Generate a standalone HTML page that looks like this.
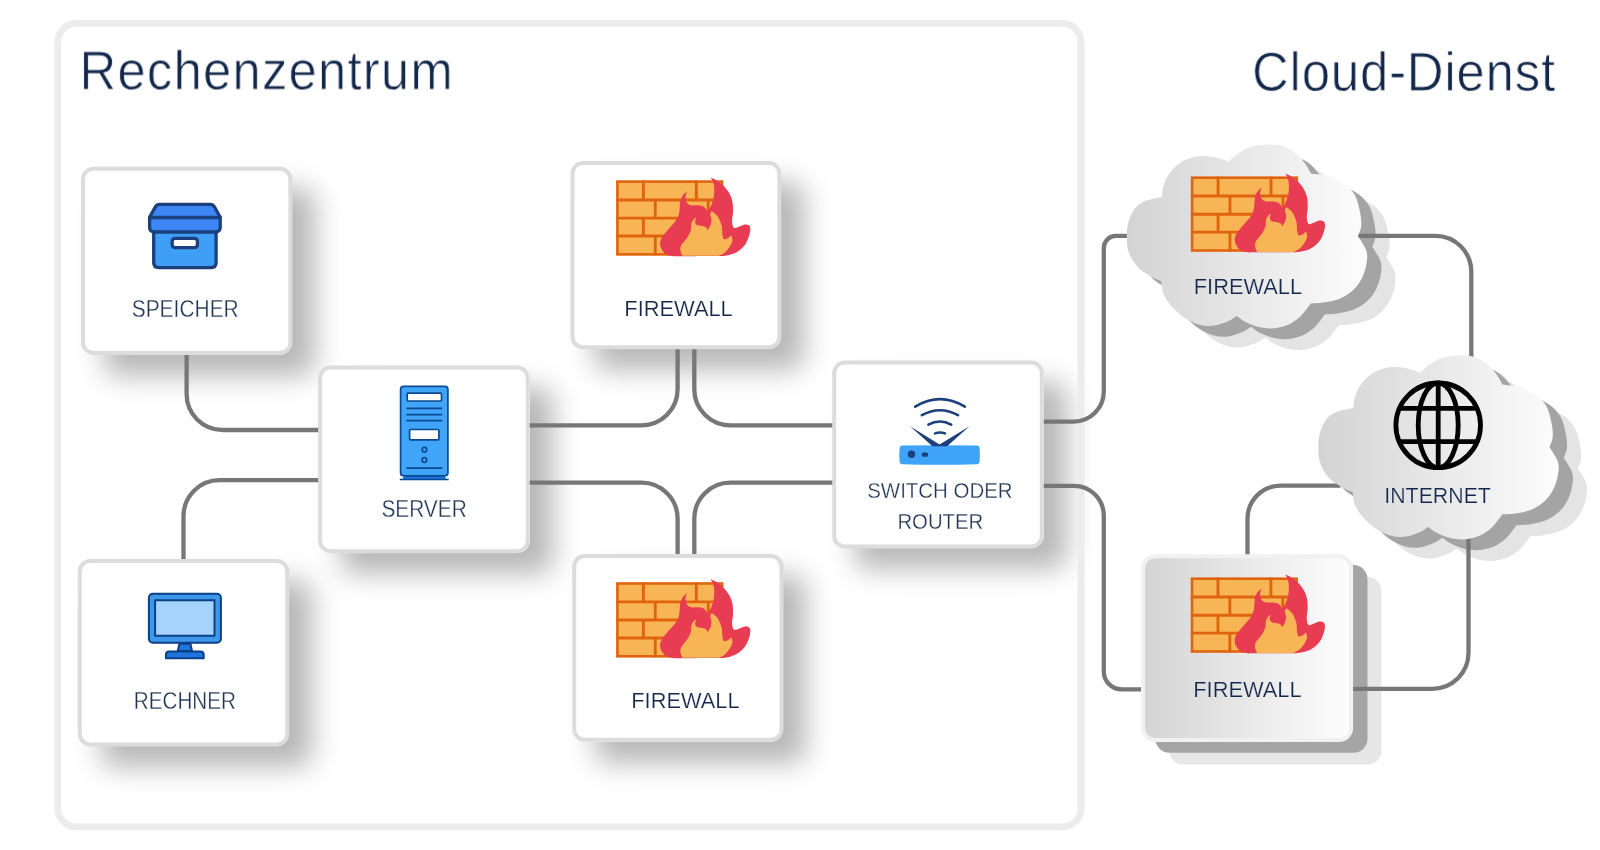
<!DOCTYPE html>
<html lang="de"><head><meta charset="utf-8"><title>Rechenzentrum und Cloud-Dienst</title>
<style>
html,body{margin:0;padding:0;background:#fff;}
body{width:1600px;height:850px;position:relative;overflow:hidden;font-family:"Liberation Sans",sans-serif;}
.sh{position:absolute;border-radius:13px;background:#fff;box-shadow:23px 21px 28px rgba(0,0,0,0.285);}
svg{position:absolute;left:0;top:0;will-change:transform;}
text{font-family:"Liberation Sans",sans-serif;}
</style></head><body>

<div class="sh" style="left:81.0px;top:166.8px;width:211.4px;height:188.2px"></div>
<div class="sh" style="left:570.5px;top:161.0px;width:210.8px;height:188.2px"></div>
<div class="sh" style="left:318.1px;top:365.6px;width:211.6px;height:187.6px"></div>
<div class="sh" style="left:832.2px;top:360.6px;width:211.6px;height:187.9px"></div>
<div class="sh" style="left:77.8px;top:558.9px;width:211.4px;height:187.6px"></div>
<div class="sh" style="left:572.2px;top:553.9px;width:211.3px;height:187.9px"></div>
<svg width="1600" height="850" viewBox="0 0 1600 850">
<defs>
<linearGradient id="cg1" gradientUnits="userSpaceOnUse" x1="0" y1="0" x2="241" y2="0"><stop offset="0" stop-color="#d3d3d3"/><stop offset="1" stop-color="#fdfdfd"/></linearGradient>
<linearGradient id="bg3" x1="0" y1="0" x2="1" y2="0"><stop offset="0" stop-color="#d4d4d4"/><stop offset="1" stop-color="#fdfdfd"/></linearGradient>
</defs>
<rect x="57.85" y="23.35" width="1023.2" height="803.5" rx="18.7" fill="none" stroke="#ececec" stroke-width="6.7"/>
<g transform="translate(1154.4,166.1)" fill="#e4e4e4"><path d="M0.80 94.50 C0.65 89.47 0.93 83.50 2.20 78.50 C3.47 73.50 5.60 68.17 8.40 64.50 C11.20 60.83 14.43 58.50 19.00 56.50 C23.57 54.50 33.00 53.17 35.80 52.50 C36.08 50.67 36.18 45.50 37.50 41.50 C38.82 37.50 40.62 32.58 43.70 28.50 C46.78 24.42 51.28 19.80 56.00 17.00 C60.72 14.20 66.67 12.45 72.00 11.70 C77.33 10.95 82.87 11.62 88.00 12.50 C93.13 13.38 100.33 16.25 102.80 17.00 C104.12 15.82 107.33 12.25 110.70 9.90 C114.07 7.55 118.28 4.52 123.00 2.90 C127.72 1.28 133.67 0.50 139.00 0.20 C144.33 -0.10 150.00 -0.22 155.00 1.10 C160.00 2.42 165.00 5.12 169.00 8.10 C173.00 11.08 176.33 15.52 179.00 19.00 C181.67 22.48 184.00 27.33 185.00 29.00 C188.17 29.47 198.33 30.05 204.00 31.80 C209.67 33.55 214.83 36.30 219.00 39.50 C223.17 42.70 226.50 46.33 229.00 51.00 C231.50 55.67 232.97 62.42 234.00 67.50 C235.03 72.58 235.53 77.50 235.20 81.50 C234.87 85.50 232.53 89.83 232.00 91.50 C233.40 94.00 239.00 101.83 240.40 106.50 C241.80 111.17 241.13 115.00 240.40 119.50 C239.67 124.00 238.23 129.12 236.00 133.50 C233.77 137.88 230.83 142.30 227.00 145.80 C223.17 149.30 218.00 152.45 213.00 154.50 C208.00 156.55 201.70 157.35 197.00 158.10 C192.30 158.85 186.83 158.85 184.80 159.00 C183.00 161.20 177.80 168.67 174.00 172.20 C170.20 175.73 166.33 178.28 162.00 180.20 C157.67 182.12 152.72 183.27 148.00 183.70 C143.28 184.13 138.43 183.83 133.70 182.80 C128.97 181.77 123.43 179.40 119.60 177.50 C115.77 175.60 112.18 172.42 110.70 171.40 C109.25 172.28 105.78 175.08 102.00 176.70 C98.22 178.32 92.72 180.52 88.00 181.10 C83.28 181.68 78.43 181.38 73.70 180.20 C68.97 179.02 64.30 177.08 59.60 174.00 C54.90 170.92 49.18 165.82 45.50 161.70 C41.82 157.58 39.22 153.48 37.50 149.30 C35.78 145.12 35.58 138.72 35.20 136.60 C33.38 135.78 28.18 134.00 24.30 131.70 C20.42 129.40 15.43 126.63 11.90 122.80 C8.37 118.97 4.95 113.42 3.10 108.70 C1.25 103.98 0.95 99.53 0.80 94.50Z"/></g>
<g transform="translate(1140.3,155.3)" fill="#a4a4a4"><path d="M0.80 94.50 C0.65 89.47 0.93 83.50 2.20 78.50 C3.47 73.50 5.60 68.17 8.40 64.50 C11.20 60.83 14.43 58.50 19.00 56.50 C23.57 54.50 33.00 53.17 35.80 52.50 C36.08 50.67 36.18 45.50 37.50 41.50 C38.82 37.50 40.62 32.58 43.70 28.50 C46.78 24.42 51.28 19.80 56.00 17.00 C60.72 14.20 66.67 12.45 72.00 11.70 C77.33 10.95 82.87 11.62 88.00 12.50 C93.13 13.38 100.33 16.25 102.80 17.00 C104.12 15.82 107.33 12.25 110.70 9.90 C114.07 7.55 118.28 4.52 123.00 2.90 C127.72 1.28 133.67 0.50 139.00 0.20 C144.33 -0.10 150.00 -0.22 155.00 1.10 C160.00 2.42 165.00 5.12 169.00 8.10 C173.00 11.08 176.33 15.52 179.00 19.00 C181.67 22.48 184.00 27.33 185.00 29.00 C188.17 29.47 198.33 30.05 204.00 31.80 C209.67 33.55 214.83 36.30 219.00 39.50 C223.17 42.70 226.50 46.33 229.00 51.00 C231.50 55.67 232.97 62.42 234.00 67.50 C235.03 72.58 235.53 77.50 235.20 81.50 C234.87 85.50 232.53 89.83 232.00 91.50 C233.40 94.00 239.00 101.83 240.40 106.50 C241.80 111.17 241.13 115.00 240.40 119.50 C239.67 124.00 238.23 129.12 236.00 133.50 C233.77 137.88 230.83 142.30 227.00 145.80 C223.17 149.30 218.00 152.45 213.00 154.50 C208.00 156.55 201.70 157.35 197.00 158.10 C192.30 158.85 186.83 158.85 184.80 159.00 C183.00 161.20 177.80 168.67 174.00 172.20 C170.20 175.73 166.33 178.28 162.00 180.20 C157.67 182.12 152.72 183.27 148.00 183.70 C143.28 184.13 138.43 183.83 133.70 182.80 C128.97 181.77 123.43 179.40 119.60 177.50 C115.77 175.60 112.18 172.42 110.70 171.40 C109.25 172.28 105.78 175.08 102.00 176.70 C98.22 178.32 92.72 180.52 88.00 181.10 C83.28 181.68 78.43 181.38 73.70 180.20 C68.97 179.02 64.30 177.08 59.60 174.00 C54.90 170.92 49.18 165.82 45.50 161.70 C41.82 157.58 39.22 153.48 37.50 149.30 C35.78 145.12 35.58 138.72 35.20 136.60 C33.38 135.78 28.18 134.00 24.30 131.70 C20.42 129.40 15.43 126.63 11.90 122.80 C8.37 118.97 4.95 113.42 3.10 108.70 C1.25 103.98 0.95 99.53 0.80 94.50Z"/></g>
<g transform="translate(1345.9,377.1)" fill="#e4e4e4"><path d="M0.80 94.50 C0.65 89.47 0.93 83.50 2.20 78.50 C3.47 73.50 5.60 68.17 8.40 64.50 C11.20 60.83 14.43 58.50 19.00 56.50 C23.57 54.50 33.00 53.17 35.80 52.50 C36.08 50.67 36.18 45.50 37.50 41.50 C38.82 37.50 40.62 32.58 43.70 28.50 C46.78 24.42 51.28 19.80 56.00 17.00 C60.72 14.20 66.67 12.45 72.00 11.70 C77.33 10.95 82.87 11.62 88.00 12.50 C93.13 13.38 100.33 16.25 102.80 17.00 C104.12 15.82 107.33 12.25 110.70 9.90 C114.07 7.55 118.28 4.52 123.00 2.90 C127.72 1.28 133.67 0.50 139.00 0.20 C144.33 -0.10 150.00 -0.22 155.00 1.10 C160.00 2.42 165.00 5.12 169.00 8.10 C173.00 11.08 176.33 15.52 179.00 19.00 C181.67 22.48 184.00 27.33 185.00 29.00 C188.17 29.47 198.33 30.05 204.00 31.80 C209.67 33.55 214.83 36.30 219.00 39.50 C223.17 42.70 226.50 46.33 229.00 51.00 C231.50 55.67 232.97 62.42 234.00 67.50 C235.03 72.58 235.53 77.50 235.20 81.50 C234.87 85.50 232.53 89.83 232.00 91.50 C233.40 94.00 239.00 101.83 240.40 106.50 C241.80 111.17 241.13 115.00 240.40 119.50 C239.67 124.00 238.23 129.12 236.00 133.50 C233.77 137.88 230.83 142.30 227.00 145.80 C223.17 149.30 218.00 152.45 213.00 154.50 C208.00 156.55 201.70 157.35 197.00 158.10 C192.30 158.85 186.83 158.85 184.80 159.00 C183.00 161.20 177.80 168.67 174.00 172.20 C170.20 175.73 166.33 178.28 162.00 180.20 C157.67 182.12 152.72 183.27 148.00 183.70 C143.28 184.13 138.43 183.83 133.70 182.80 C128.97 181.77 123.43 179.40 119.60 177.50 C115.77 175.60 112.18 172.42 110.70 171.40 C109.25 172.28 105.78 175.08 102.00 176.70 C98.22 178.32 92.72 180.52 88.00 181.10 C83.28 181.68 78.43 181.38 73.70 180.20 C68.97 179.02 64.30 177.08 59.60 174.00 C54.90 170.92 49.18 165.82 45.50 161.70 C41.82 157.58 39.22 153.48 37.50 149.30 C35.78 145.12 35.58 138.72 35.20 136.60 C33.38 135.78 28.18 134.00 24.30 131.70 C20.42 129.40 15.43 126.63 11.90 122.80 C8.37 118.97 4.95 113.42 3.10 108.70 C1.25 103.98 0.95 99.53 0.80 94.50Z"/></g>
<g transform="translate(1331.8,366.3)" fill="#a4a4a4"><path d="M0.80 94.50 C0.65 89.47 0.93 83.50 2.20 78.50 C3.47 73.50 5.60 68.17 8.40 64.50 C11.20 60.83 14.43 58.50 19.00 56.50 C23.57 54.50 33.00 53.17 35.80 52.50 C36.08 50.67 36.18 45.50 37.50 41.50 C38.82 37.50 40.62 32.58 43.70 28.50 C46.78 24.42 51.28 19.80 56.00 17.00 C60.72 14.20 66.67 12.45 72.00 11.70 C77.33 10.95 82.87 11.62 88.00 12.50 C93.13 13.38 100.33 16.25 102.80 17.00 C104.12 15.82 107.33 12.25 110.70 9.90 C114.07 7.55 118.28 4.52 123.00 2.90 C127.72 1.28 133.67 0.50 139.00 0.20 C144.33 -0.10 150.00 -0.22 155.00 1.10 C160.00 2.42 165.00 5.12 169.00 8.10 C173.00 11.08 176.33 15.52 179.00 19.00 C181.67 22.48 184.00 27.33 185.00 29.00 C188.17 29.47 198.33 30.05 204.00 31.80 C209.67 33.55 214.83 36.30 219.00 39.50 C223.17 42.70 226.50 46.33 229.00 51.00 C231.50 55.67 232.97 62.42 234.00 67.50 C235.03 72.58 235.53 77.50 235.20 81.50 C234.87 85.50 232.53 89.83 232.00 91.50 C233.40 94.00 239.00 101.83 240.40 106.50 C241.80 111.17 241.13 115.00 240.40 119.50 C239.67 124.00 238.23 129.12 236.00 133.50 C233.77 137.88 230.83 142.30 227.00 145.80 C223.17 149.30 218.00 152.45 213.00 154.50 C208.00 156.55 201.70 157.35 197.00 158.10 C192.30 158.85 186.83 158.85 184.80 159.00 C183.00 161.20 177.80 168.67 174.00 172.20 C170.20 175.73 166.33 178.28 162.00 180.20 C157.67 182.12 152.72 183.27 148.00 183.70 C143.28 184.13 138.43 183.83 133.70 182.80 C128.97 181.77 123.43 179.40 119.60 177.50 C115.77 175.60 112.18 172.42 110.70 171.40 C109.25 172.28 105.78 175.08 102.00 176.70 C98.22 178.32 92.72 180.52 88.00 181.10 C83.28 181.68 78.43 181.38 73.70 180.20 C68.97 179.02 64.30 177.08 59.60 174.00 C54.90 170.92 49.18 165.82 45.50 161.70 C41.82 157.58 39.22 153.48 37.50 149.30 C35.78 145.12 35.58 138.72 35.20 136.60 C33.38 135.78 28.18 134.00 24.30 131.70 C20.42 129.40 15.43 126.63 11.90 122.80 C8.37 118.97 4.95 113.42 3.10 108.70 C1.25 103.98 0.95 99.53 0.80 94.50Z"/></g>
<rect x="1169.3" y="576.9" width="212.1" height="187.7" rx="14" fill="#e6e6e6"/>
<rect x="1155.4" y="565.1" width="212.1" height="187.7" rx="14" fill="#a5a5a5"/>
<path d="M186.60 353.00L186.60 394.00A36.0 36.0 0 0 0 222.60 430.00L320.00 430.00M183.50 561.00L183.50 516.20A36.0 36.0 0 0 1 219.50 480.20L320.00 480.20M528.00 425.30L641.60 425.30A36.0 36.0 0 0 0 677.60 389.30L677.60 347.00M694.30 347.00L694.30 389.30A36.0 36.0 0 0 0 730.30 425.30L834.00 425.30M528.00 482.70L641.60 482.70A36.0 36.0 0 0 1 677.60 518.70L677.60 556.00M694.30 556.00L694.30 518.70A36.0 36.0 0 0 1 730.30 482.70L834.00 482.70M1042.00 421.60L1073.80 421.60A30.0 30.0 0 0 0 1103.80 391.60L1103.80 247.90A12.0 12.0 0 0 1 1115.80 235.90L1150.00 235.90M1042.00 485.80L1073.80 485.80A30.0 30.0 0 0 1 1103.80 515.80L1103.80 671.40A18.0 18.0 0 0 0 1121.80 689.40L1145.00 689.40M1357.60 235.80L1435.30 235.80A36.0 36.0 0 0 1 1471.30 271.80L1471.30 365.00M1247.50 556.00L1247.50 518.70A33.0 33.0 0 0 1 1280.50 485.70L1340.60 485.70M1351.00 688.80L1432.50 688.80A36.0 36.0 0 0 0 1468.50 652.80L1468.50 530.00" fill="none" stroke="#777" stroke-width="4.3"/>
<rect x="83.00" y="168.80" width="207.40" height="184.20" rx="10.5" fill="#fff" stroke="#dcdcdc" stroke-width="4"/>
<rect x="572.50" y="163.00" width="206.80" height="184.20" rx="10.5" fill="#fff" stroke="#dcdcdc" stroke-width="4"/>
<rect x="320.10" y="367.60" width="207.60" height="183.60" rx="10.5" fill="#fff" stroke="#dcdcdc" stroke-width="4"/>
<rect x="834.20" y="362.60" width="207.60" height="183.90" rx="10.5" fill="#fff" stroke="#dcdcdc" stroke-width="4"/>
<rect x="79.80" y="560.90" width="207.40" height="183.60" rx="10.5" fill="#fff" stroke="#dcdcdc" stroke-width="4"/>
<rect x="574.20" y="555.90" width="207.30" height="183.90" rx="10.5" fill="#fff" stroke="#dcdcdc" stroke-width="4"/>
<g transform="translate(1126,144.5)" fill="url(#cg1)"><path d="M0.80 94.50 C0.65 89.47 0.93 83.50 2.20 78.50 C3.47 73.50 5.60 68.17 8.40 64.50 C11.20 60.83 14.43 58.50 19.00 56.50 C23.57 54.50 33.00 53.17 35.80 52.50 C36.08 50.67 36.18 45.50 37.50 41.50 C38.82 37.50 40.62 32.58 43.70 28.50 C46.78 24.42 51.28 19.80 56.00 17.00 C60.72 14.20 66.67 12.45 72.00 11.70 C77.33 10.95 82.87 11.62 88.00 12.50 C93.13 13.38 100.33 16.25 102.80 17.00 C104.12 15.82 107.33 12.25 110.70 9.90 C114.07 7.55 118.28 4.52 123.00 2.90 C127.72 1.28 133.67 0.50 139.00 0.20 C144.33 -0.10 150.00 -0.22 155.00 1.10 C160.00 2.42 165.00 5.12 169.00 8.10 C173.00 11.08 176.33 15.52 179.00 19.00 C181.67 22.48 184.00 27.33 185.00 29.00 C188.17 29.47 198.33 30.05 204.00 31.80 C209.67 33.55 214.83 36.30 219.00 39.50 C223.17 42.70 226.50 46.33 229.00 51.00 C231.50 55.67 232.97 62.42 234.00 67.50 C235.03 72.58 235.53 77.50 235.20 81.50 C234.87 85.50 232.53 89.83 232.00 91.50 C233.40 94.00 239.00 101.83 240.40 106.50 C241.80 111.17 241.13 115.00 240.40 119.50 C239.67 124.00 238.23 129.12 236.00 133.50 C233.77 137.88 230.83 142.30 227.00 145.80 C223.17 149.30 218.00 152.45 213.00 154.50 C208.00 156.55 201.70 157.35 197.00 158.10 C192.30 158.85 186.83 158.85 184.80 159.00 C183.00 161.20 177.80 168.67 174.00 172.20 C170.20 175.73 166.33 178.28 162.00 180.20 C157.67 182.12 152.72 183.27 148.00 183.70 C143.28 184.13 138.43 183.83 133.70 182.80 C128.97 181.77 123.43 179.40 119.60 177.50 C115.77 175.60 112.18 172.42 110.70 171.40 C109.25 172.28 105.78 175.08 102.00 176.70 C98.22 178.32 92.72 180.52 88.00 181.10 C83.28 181.68 78.43 181.38 73.70 180.20 C68.97 179.02 64.30 177.08 59.60 174.00 C54.90 170.92 49.18 165.82 45.50 161.70 C41.82 157.58 39.22 153.48 37.50 149.30 C35.78 145.12 35.58 138.72 35.20 136.60 C33.38 135.78 28.18 134.00 24.30 131.70 C20.42 129.40 15.43 126.63 11.90 122.80 C8.37 118.97 4.95 113.42 3.10 108.70 C1.25 103.98 0.95 99.53 0.80 94.50Z"/></g>
<g transform="translate(1317.5,355.5)" fill="url(#cg1)"><path d="M0.80 94.50 C0.65 89.47 0.93 83.50 2.20 78.50 C3.47 73.50 5.60 68.17 8.40 64.50 C11.20 60.83 14.43 58.50 19.00 56.50 C23.57 54.50 33.00 53.17 35.80 52.50 C36.08 50.67 36.18 45.50 37.50 41.50 C38.82 37.50 40.62 32.58 43.70 28.50 C46.78 24.42 51.28 19.80 56.00 17.00 C60.72 14.20 66.67 12.45 72.00 11.70 C77.33 10.95 82.87 11.62 88.00 12.50 C93.13 13.38 100.33 16.25 102.80 17.00 C104.12 15.82 107.33 12.25 110.70 9.90 C114.07 7.55 118.28 4.52 123.00 2.90 C127.72 1.28 133.67 0.50 139.00 0.20 C144.33 -0.10 150.00 -0.22 155.00 1.10 C160.00 2.42 165.00 5.12 169.00 8.10 C173.00 11.08 176.33 15.52 179.00 19.00 C181.67 22.48 184.00 27.33 185.00 29.00 C188.17 29.47 198.33 30.05 204.00 31.80 C209.67 33.55 214.83 36.30 219.00 39.50 C223.17 42.70 226.50 46.33 229.00 51.00 C231.50 55.67 232.97 62.42 234.00 67.50 C235.03 72.58 235.53 77.50 235.20 81.50 C234.87 85.50 232.53 89.83 232.00 91.50 C233.40 94.00 239.00 101.83 240.40 106.50 C241.80 111.17 241.13 115.00 240.40 119.50 C239.67 124.00 238.23 129.12 236.00 133.50 C233.77 137.88 230.83 142.30 227.00 145.80 C223.17 149.30 218.00 152.45 213.00 154.50 C208.00 156.55 201.70 157.35 197.00 158.10 C192.30 158.85 186.83 158.85 184.80 159.00 C183.00 161.20 177.80 168.67 174.00 172.20 C170.20 175.73 166.33 178.28 162.00 180.20 C157.67 182.12 152.72 183.27 148.00 183.70 C143.28 184.13 138.43 183.83 133.70 182.80 C128.97 181.77 123.43 179.40 119.60 177.50 C115.77 175.60 112.18 172.42 110.70 171.40 C109.25 172.28 105.78 175.08 102.00 176.70 C98.22 178.32 92.72 180.52 88.00 181.10 C83.28 181.68 78.43 181.38 73.70 180.20 C68.97 179.02 64.30 177.08 59.60 174.00 C54.90 170.92 49.18 165.82 45.50 161.70 C41.82 157.58 39.22 153.48 37.50 149.30 C35.78 145.12 35.58 138.72 35.20 136.60 C33.38 135.78 28.18 134.00 24.30 131.70 C20.42 129.40 15.43 126.63 11.90 122.80 C8.37 118.97 4.95 113.42 3.10 108.70 C1.25 103.98 0.95 99.53 0.80 94.50Z"/></g>
<rect x="1143" y="556.3" width="208.1" height="183.7" rx="12" fill="url(#bg3)" stroke="#f1f1f1" stroke-width="4"/>
<g transform="translate(616.2,180.4)"><g><rect x="1.2" y="1.2" width="104.7" height="72.8" fill="#f8b556" stroke="#e0640e" stroke-width="2.6"/><path d="M0 19.53H107.1M0 37.76H107.1M0 55.65H107.1M27.18 0.00V19.53M80.12 0.00V19.53M39.06 19.53V37.76M92.00 19.53V37.76M27.18 37.76V55.65M80.12 37.76V55.65M39.06 55.65V75.20M92.00 55.65V75.20" stroke="#e0640e" stroke-width="2.9" fill="none"/><path d="M57.41 75.88 C56.24 75.57 52.31 75.10 50.35 74.00 C48.39 72.90 46.73 71.14 45.65 69.29 C44.57 67.45 43.88 64.94 43.88 62.94 C43.88 60.94 44.47 59.41 45.65 57.29 C46.82 55.18 48.69 52.98 50.94 50.24 C53.20 47.49 57.18 43.76 59.18 40.82 C61.18 37.88 62.16 35.73 62.94 32.59 C63.73 29.45 63.33 24.84 63.88 22.00 C64.43 19.16 65.06 17.39 66.24 15.53 C67.41 13.67 70.16 11.61 70.94 10.82 C70.65 11.80 69.22 14.80 69.18 16.71 C69.14 18.61 69.73 20.86 70.71 22.24 C71.69 23.61 73.25 24.49 75.06 24.94 C76.86 25.39 79.63 24.80 81.53 24.94 C83.43 25.08 85.10 25.18 86.47 25.76 C87.84 26.35 88.98 27.49 89.76 28.47 C90.55 29.45 90.94 31.12 91.18 31.65 C91.82 30.53 94.00 27.43 95.06 24.94 C96.12 22.45 97.04 19.55 97.53 16.71 C98.02 13.86 98.12 10.43 98.00 7.88 C97.88 5.33 97.45 3.22 96.82 1.41 C96.20 -0.39 94.67 -2.22 94.24 -2.94 C95.35 -2.41 98.65 -1.27 100.94 0.24 C103.24 1.75 105.94 3.96 108.00 6.12 C110.06 8.27 111.92 10.63 113.29 13.18 C114.67 15.73 115.65 18.37 116.24 21.41 C116.82 24.45 116.88 28.37 116.82 31.41 C116.76 34.45 115.92 37.29 115.88 39.65 C115.84 42.00 116.14 44.20 116.59 45.53 C117.04 46.86 117.47 47.55 118.59 47.65 C119.71 47.75 121.59 46.71 123.29 46.12 C125.00 45.53 127.25 44.31 128.82 44.12 C130.39 43.92 131.82 44.22 132.71 44.94 C133.59 45.67 134.06 46.80 134.12 48.47 C134.18 50.14 133.88 52.39 133.06 54.94 C132.24 57.49 130.90 61.22 129.18 63.76 C127.45 66.31 125.25 68.47 122.71 70.24 C120.16 72.00 116.82 73.45 113.88 74.35 C110.94 75.25 106.53 75.43 105.06 75.65 C97.12 75.69 65.35 75.84 57.41 75.88Z" fill="#e83c53"/><path d="M66.24 75.41 C65.88 74.45 64.27 71.49 64.12 69.65 C63.96 67.80 64.16 66.41 65.29 64.35 C66.43 62.29 69.41 59.65 70.94 57.29 C72.47 54.94 73.76 52.59 74.47 50.24 C75.18 47.88 74.63 45.10 75.18 43.18 C75.73 41.25 76.98 39.69 77.76 38.71 C78.55 37.73 79.53 37.53 79.88 37.29 C79.73 38.08 78.67 40.73 78.94 42.00 C79.22 43.27 80.31 44.33 81.53 44.94 C82.75 45.55 84.86 45.31 86.24 45.65 C87.61 45.98 88.88 46.25 89.76 46.94 C90.65 47.63 91.24 49.29 91.53 49.76 C92.02 48.86 93.86 46.24 94.47 44.35 C95.08 42.47 95.25 40.24 95.18 38.47 C95.10 36.71 93.92 35.04 94.00 33.76 C94.08 32.49 95.37 31.31 95.65 30.82 C96.63 31.71 99.88 33.67 101.53 36.12 C103.18 38.57 104.75 42.49 105.53 45.53 C106.31 48.57 105.88 52.10 106.24 54.35 C106.59 56.61 107.41 58.27 107.65 59.06 C108.29 58.86 110.27 58.57 111.53 57.88 C112.78 57.20 114.57 55.43 115.18 54.94 C115.35 55.82 116.55 58.27 116.24 60.24 C115.92 62.20 114.67 64.65 113.29 66.71 C111.92 68.76 109.76 71.14 108.00 72.59 C106.24 74.04 103.59 74.94 102.71 75.41 C96.63 75.41 72.31 75.41 66.24 75.41Z" fill="#f8b556"/></g></g>
<g transform="translate(616.2,582.3)"><g><rect x="1.2" y="1.2" width="104.7" height="72.8" fill="#f8b556" stroke="#e0640e" stroke-width="2.6"/><path d="M0 19.53H107.1M0 37.76H107.1M0 55.65H107.1M27.18 0.00V19.53M80.12 0.00V19.53M39.06 19.53V37.76M92.00 19.53V37.76M27.18 37.76V55.65M80.12 37.76V55.65M39.06 55.65V75.20M92.00 55.65V75.20" stroke="#e0640e" stroke-width="2.9" fill="none"/><path d="M57.41 75.88 C56.24 75.57 52.31 75.10 50.35 74.00 C48.39 72.90 46.73 71.14 45.65 69.29 C44.57 67.45 43.88 64.94 43.88 62.94 C43.88 60.94 44.47 59.41 45.65 57.29 C46.82 55.18 48.69 52.98 50.94 50.24 C53.20 47.49 57.18 43.76 59.18 40.82 C61.18 37.88 62.16 35.73 62.94 32.59 C63.73 29.45 63.33 24.84 63.88 22.00 C64.43 19.16 65.06 17.39 66.24 15.53 C67.41 13.67 70.16 11.61 70.94 10.82 C70.65 11.80 69.22 14.80 69.18 16.71 C69.14 18.61 69.73 20.86 70.71 22.24 C71.69 23.61 73.25 24.49 75.06 24.94 C76.86 25.39 79.63 24.80 81.53 24.94 C83.43 25.08 85.10 25.18 86.47 25.76 C87.84 26.35 88.98 27.49 89.76 28.47 C90.55 29.45 90.94 31.12 91.18 31.65 C91.82 30.53 94.00 27.43 95.06 24.94 C96.12 22.45 97.04 19.55 97.53 16.71 C98.02 13.86 98.12 10.43 98.00 7.88 C97.88 5.33 97.45 3.22 96.82 1.41 C96.20 -0.39 94.67 -2.22 94.24 -2.94 C95.35 -2.41 98.65 -1.27 100.94 0.24 C103.24 1.75 105.94 3.96 108.00 6.12 C110.06 8.27 111.92 10.63 113.29 13.18 C114.67 15.73 115.65 18.37 116.24 21.41 C116.82 24.45 116.88 28.37 116.82 31.41 C116.76 34.45 115.92 37.29 115.88 39.65 C115.84 42.00 116.14 44.20 116.59 45.53 C117.04 46.86 117.47 47.55 118.59 47.65 C119.71 47.75 121.59 46.71 123.29 46.12 C125.00 45.53 127.25 44.31 128.82 44.12 C130.39 43.92 131.82 44.22 132.71 44.94 C133.59 45.67 134.06 46.80 134.12 48.47 C134.18 50.14 133.88 52.39 133.06 54.94 C132.24 57.49 130.90 61.22 129.18 63.76 C127.45 66.31 125.25 68.47 122.71 70.24 C120.16 72.00 116.82 73.45 113.88 74.35 C110.94 75.25 106.53 75.43 105.06 75.65 C97.12 75.69 65.35 75.84 57.41 75.88Z" fill="#e83c53"/><path d="M66.24 75.41 C65.88 74.45 64.27 71.49 64.12 69.65 C63.96 67.80 64.16 66.41 65.29 64.35 C66.43 62.29 69.41 59.65 70.94 57.29 C72.47 54.94 73.76 52.59 74.47 50.24 C75.18 47.88 74.63 45.10 75.18 43.18 C75.73 41.25 76.98 39.69 77.76 38.71 C78.55 37.73 79.53 37.53 79.88 37.29 C79.73 38.08 78.67 40.73 78.94 42.00 C79.22 43.27 80.31 44.33 81.53 44.94 C82.75 45.55 84.86 45.31 86.24 45.65 C87.61 45.98 88.88 46.25 89.76 46.94 C90.65 47.63 91.24 49.29 91.53 49.76 C92.02 48.86 93.86 46.24 94.47 44.35 C95.08 42.47 95.25 40.24 95.18 38.47 C95.10 36.71 93.92 35.04 94.00 33.76 C94.08 32.49 95.37 31.31 95.65 30.82 C96.63 31.71 99.88 33.67 101.53 36.12 C103.18 38.57 104.75 42.49 105.53 45.53 C106.31 48.57 105.88 52.10 106.24 54.35 C106.59 56.61 107.41 58.27 107.65 59.06 C108.29 58.86 110.27 58.57 111.53 57.88 C112.78 57.20 114.57 55.43 115.18 54.94 C115.35 55.82 116.55 58.27 116.24 60.24 C115.92 62.20 114.67 64.65 113.29 66.71 C111.92 68.76 109.76 71.14 108.00 72.59 C106.24 74.04 103.59 74.94 102.71 75.41 C96.63 75.41 72.31 75.41 66.24 75.41Z" fill="#f8b556"/></g></g>
<g transform="translate(1190.9,176.5)"><g><rect x="1.2" y="1.2" width="104.7" height="72.8" fill="#f8b556" stroke="#e0640e" stroke-width="2.6"/><path d="M0 19.53H107.1M0 37.76H107.1M0 55.65H107.1M27.18 0.00V19.53M80.12 0.00V19.53M39.06 19.53V37.76M92.00 19.53V37.76M27.18 37.76V55.65M80.12 37.76V55.65M39.06 55.65V75.20M92.00 55.65V75.20" stroke="#e0640e" stroke-width="2.9" fill="none"/><path d="M57.41 75.88 C56.24 75.57 52.31 75.10 50.35 74.00 C48.39 72.90 46.73 71.14 45.65 69.29 C44.57 67.45 43.88 64.94 43.88 62.94 C43.88 60.94 44.47 59.41 45.65 57.29 C46.82 55.18 48.69 52.98 50.94 50.24 C53.20 47.49 57.18 43.76 59.18 40.82 C61.18 37.88 62.16 35.73 62.94 32.59 C63.73 29.45 63.33 24.84 63.88 22.00 C64.43 19.16 65.06 17.39 66.24 15.53 C67.41 13.67 70.16 11.61 70.94 10.82 C70.65 11.80 69.22 14.80 69.18 16.71 C69.14 18.61 69.73 20.86 70.71 22.24 C71.69 23.61 73.25 24.49 75.06 24.94 C76.86 25.39 79.63 24.80 81.53 24.94 C83.43 25.08 85.10 25.18 86.47 25.76 C87.84 26.35 88.98 27.49 89.76 28.47 C90.55 29.45 90.94 31.12 91.18 31.65 C91.82 30.53 94.00 27.43 95.06 24.94 C96.12 22.45 97.04 19.55 97.53 16.71 C98.02 13.86 98.12 10.43 98.00 7.88 C97.88 5.33 97.45 3.22 96.82 1.41 C96.20 -0.39 94.67 -2.22 94.24 -2.94 C95.35 -2.41 98.65 -1.27 100.94 0.24 C103.24 1.75 105.94 3.96 108.00 6.12 C110.06 8.27 111.92 10.63 113.29 13.18 C114.67 15.73 115.65 18.37 116.24 21.41 C116.82 24.45 116.88 28.37 116.82 31.41 C116.76 34.45 115.92 37.29 115.88 39.65 C115.84 42.00 116.14 44.20 116.59 45.53 C117.04 46.86 117.47 47.55 118.59 47.65 C119.71 47.75 121.59 46.71 123.29 46.12 C125.00 45.53 127.25 44.31 128.82 44.12 C130.39 43.92 131.82 44.22 132.71 44.94 C133.59 45.67 134.06 46.80 134.12 48.47 C134.18 50.14 133.88 52.39 133.06 54.94 C132.24 57.49 130.90 61.22 129.18 63.76 C127.45 66.31 125.25 68.47 122.71 70.24 C120.16 72.00 116.82 73.45 113.88 74.35 C110.94 75.25 106.53 75.43 105.06 75.65 C97.12 75.69 65.35 75.84 57.41 75.88Z" fill="#e83c53"/><path d="M66.24 75.41 C65.88 74.45 64.27 71.49 64.12 69.65 C63.96 67.80 64.16 66.41 65.29 64.35 C66.43 62.29 69.41 59.65 70.94 57.29 C72.47 54.94 73.76 52.59 74.47 50.24 C75.18 47.88 74.63 45.10 75.18 43.18 C75.73 41.25 76.98 39.69 77.76 38.71 C78.55 37.73 79.53 37.53 79.88 37.29 C79.73 38.08 78.67 40.73 78.94 42.00 C79.22 43.27 80.31 44.33 81.53 44.94 C82.75 45.55 84.86 45.31 86.24 45.65 C87.61 45.98 88.88 46.25 89.76 46.94 C90.65 47.63 91.24 49.29 91.53 49.76 C92.02 48.86 93.86 46.24 94.47 44.35 C95.08 42.47 95.25 40.24 95.18 38.47 C95.10 36.71 93.92 35.04 94.00 33.76 C94.08 32.49 95.37 31.31 95.65 30.82 C96.63 31.71 99.88 33.67 101.53 36.12 C103.18 38.57 104.75 42.49 105.53 45.53 C106.31 48.57 105.88 52.10 106.24 54.35 C106.59 56.61 107.41 58.27 107.65 59.06 C108.29 58.86 110.27 58.57 111.53 57.88 C112.78 57.20 114.57 55.43 115.18 54.94 C115.35 55.82 116.55 58.27 116.24 60.24 C115.92 62.20 114.67 64.65 113.29 66.71 C111.92 68.76 109.76 71.14 108.00 72.59 C106.24 74.04 103.59 74.94 102.71 75.41 C96.63 75.41 72.31 75.41 66.24 75.41Z" fill="#f8b556"/></g></g>
<g transform="translate(1190.8,577.5)"><g><rect x="1.2" y="1.2" width="104.7" height="72.8" fill="#f8b556" stroke="#e0640e" stroke-width="2.6"/><path d="M0 19.53H107.1M0 37.76H107.1M0 55.65H107.1M27.18 0.00V19.53M80.12 0.00V19.53M39.06 19.53V37.76M92.00 19.53V37.76M27.18 37.76V55.65M80.12 37.76V55.65M39.06 55.65V75.20M92.00 55.65V75.20" stroke="#e0640e" stroke-width="2.9" fill="none"/><path d="M57.41 75.88 C56.24 75.57 52.31 75.10 50.35 74.00 C48.39 72.90 46.73 71.14 45.65 69.29 C44.57 67.45 43.88 64.94 43.88 62.94 C43.88 60.94 44.47 59.41 45.65 57.29 C46.82 55.18 48.69 52.98 50.94 50.24 C53.20 47.49 57.18 43.76 59.18 40.82 C61.18 37.88 62.16 35.73 62.94 32.59 C63.73 29.45 63.33 24.84 63.88 22.00 C64.43 19.16 65.06 17.39 66.24 15.53 C67.41 13.67 70.16 11.61 70.94 10.82 C70.65 11.80 69.22 14.80 69.18 16.71 C69.14 18.61 69.73 20.86 70.71 22.24 C71.69 23.61 73.25 24.49 75.06 24.94 C76.86 25.39 79.63 24.80 81.53 24.94 C83.43 25.08 85.10 25.18 86.47 25.76 C87.84 26.35 88.98 27.49 89.76 28.47 C90.55 29.45 90.94 31.12 91.18 31.65 C91.82 30.53 94.00 27.43 95.06 24.94 C96.12 22.45 97.04 19.55 97.53 16.71 C98.02 13.86 98.12 10.43 98.00 7.88 C97.88 5.33 97.45 3.22 96.82 1.41 C96.20 -0.39 94.67 -2.22 94.24 -2.94 C95.35 -2.41 98.65 -1.27 100.94 0.24 C103.24 1.75 105.94 3.96 108.00 6.12 C110.06 8.27 111.92 10.63 113.29 13.18 C114.67 15.73 115.65 18.37 116.24 21.41 C116.82 24.45 116.88 28.37 116.82 31.41 C116.76 34.45 115.92 37.29 115.88 39.65 C115.84 42.00 116.14 44.20 116.59 45.53 C117.04 46.86 117.47 47.55 118.59 47.65 C119.71 47.75 121.59 46.71 123.29 46.12 C125.00 45.53 127.25 44.31 128.82 44.12 C130.39 43.92 131.82 44.22 132.71 44.94 C133.59 45.67 134.06 46.80 134.12 48.47 C134.18 50.14 133.88 52.39 133.06 54.94 C132.24 57.49 130.90 61.22 129.18 63.76 C127.45 66.31 125.25 68.47 122.71 70.24 C120.16 72.00 116.82 73.45 113.88 74.35 C110.94 75.25 106.53 75.43 105.06 75.65 C97.12 75.69 65.35 75.84 57.41 75.88Z" fill="#e83c53"/><path d="M66.24 75.41 C65.88 74.45 64.27 71.49 64.12 69.65 C63.96 67.80 64.16 66.41 65.29 64.35 C66.43 62.29 69.41 59.65 70.94 57.29 C72.47 54.94 73.76 52.59 74.47 50.24 C75.18 47.88 74.63 45.10 75.18 43.18 C75.73 41.25 76.98 39.69 77.76 38.71 C78.55 37.73 79.53 37.53 79.88 37.29 C79.73 38.08 78.67 40.73 78.94 42.00 C79.22 43.27 80.31 44.33 81.53 44.94 C82.75 45.55 84.86 45.31 86.24 45.65 C87.61 45.98 88.88 46.25 89.76 46.94 C90.65 47.63 91.24 49.29 91.53 49.76 C92.02 48.86 93.86 46.24 94.47 44.35 C95.08 42.47 95.25 40.24 95.18 38.47 C95.10 36.71 93.92 35.04 94.00 33.76 C94.08 32.49 95.37 31.31 95.65 30.82 C96.63 31.71 99.88 33.67 101.53 36.12 C103.18 38.57 104.75 42.49 105.53 45.53 C106.31 48.57 105.88 52.10 106.24 54.35 C106.59 56.61 107.41 58.27 107.65 59.06 C108.29 58.86 110.27 58.57 111.53 57.88 C112.78 57.20 114.57 55.43 115.18 54.94 C115.35 55.82 116.55 58.27 116.24 60.24 C115.92 62.20 114.67 64.65 113.29 66.71 C111.92 68.76 109.76 71.14 108.00 72.59 C106.24 74.04 103.59 74.94 102.71 75.41 C96.63 75.41 72.31 75.41 66.24 75.41Z" fill="#f8b556"/></g></g>
<g stroke="#1c3f7d" stroke-width="3.3" stroke-linejoin="round" stroke-linecap="round">
<path d="M153.7 231.8H216.1V262.6Q216.1 267.7 211 267.7H158.8Q153.7 267.7 153.7 262.6Z" fill="#3f9ef6"/>
<path d="M149.6 217.3L155.4 206.8Q156.9 204.4 159.6 204.4H210.2Q212.9 204.4 214.4 206.8L220.2 217.3V227.3Q220.2 231.8 215.7 231.8H154.1Q149.6 231.8 149.6 227.3Z" fill="#3e86f4"/>
<path d="M149.6 217.5H220.2" fill="none"/>
<rect x="172.2" y="238.3" width="25.2" height="9.4" rx="3" fill="#fff"/>
</g>
<g stroke="#0b4a8f" stroke-width="1.7" stroke-linejoin="round">
<path d="M404.1 475.8H444.7L446.5 479.4H402.3Z" fill="#1a73e0" stroke="none"/>
<path d="M399.8 479.5H448.7" fill="none"/>
<rect x="400.6" y="386.4" width="47.3" height="89.4" rx="3" fill="#40a4f8"/>
<rect x="407.2" y="393.1" width="34.3" height="7.9" rx="1" fill="#fff"/>
<path d="M406.4 408.4H442.3M406.4 414.6H442.3M406.4 420.7H442.3M406.4 468.1H442.3" fill="none"/>
<rect x="409.6" y="429.5" width="29.3" height="10.3" rx="1" fill="#fff"/>
<circle cx="424.4" cy="449.7" r="2.3" fill="none"/><circle cx="424.4" cy="460" r="2.3" fill="none"/>
</g>
<g stroke="#0b3f86" stroke-width="2" stroke-linejoin="round">
<path d="M179.4 643.8H190.4L192 651H177.8Z" fill="#1f75dc"/>
<path d="M165.9 658.2V654.8Q165.9 651.4 169.3 651.4H200.3Q203.7 651.4 203.7 654.8V658.2Z" fill="#1f75dc"/>
<rect x="148.9" y="593.7" width="72" height="49.1" rx="4" fill="#3f97ea"/>
<rect x="155.1" y="600.3" width="59.4" height="35.4" fill="#a6d3fb"/>
</g>
<g>
<path d="M902.5 445.6Q940 444.8 976.6 445.6Q979.4 445.6 979.6 448.4Q980.2 455 979.6 461.4Q979.4 464.2 976.6 464.2Q940 465.2 902.5 464.2Q899.8 464.2 899.6 461.4Q899 455 899.6 448.4Q899.8 445.6 902.5 445.6Z" fill="#3fa3f8"/>
<circle cx="911.5" cy="454.3" r="3.7" fill="#1c3f7d"/><rect x="921.8" y="452.5" width="6.2" height="4.2" rx="1.6" fill="#1c3f7d"/>
<path d="M910 426.2L939.5 444.4L969.5 426.2L947.1 446.2H932.5Z" fill="#1c3f7d"/>
<g fill="none" stroke="#1c3f7d" stroke-width="2.6" stroke-linecap="round">
<path d="M915.2 406.7Q940 391.6 964.9 406.7"/>
<path d="M921.8 415.2Q940 405.2 958.1 415.2"/>
<path d="M928.4 424.7Q940 418.3 951.2 424.7"/>
<path d="M935 433.4Q940 431.6 945 433.4"/>
</g></g>
<g fill="none" stroke="#000" stroke-width="4.8">
<circle cx="1438.2" cy="425.3" r="42.3"/><ellipse cx="1438.2" cy="425.3" rx="20" ry="42.3"/>
<path d="M1438.2 383V467.6M1399.5 408.4H1476.9M1399.5 441.6H1476.9"/>
</g>
<g style="opacity:0.999">
<text id="t_rz" transform="translate(79.50,89.50) scale(0.925,1)" font-size="55.0" textLength="403.55" lengthAdjust="spacing" fill="#14284b" stroke="#fff" stroke-width="0.80">Rechenzentrum</text>
<text id="t_cd" transform="translate(1252.00,90.80) scale(0.925,1)" font-size="55.0" textLength="327.67" lengthAdjust="spacing" fill="#14284b" stroke="#fff" stroke-width="0.80">Cloud-Dienst</text>
<text id="t_sp" x="131.70" y="316.90" font-size="24.1" textLength="107.07" lengthAdjust="spacingAndGlyphs" fill="#1f3454" stroke="#fff" stroke-width="0.30">SPEICHER</text>
<text id="t_f1" x="624.30" y="316.30" font-size="22.8" textLength="108.49" lengthAdjust="spacingAndGlyphs" fill="#14284b" stroke="#fff" stroke-width="0.20">FIREWALL</text>
<text id="t_sv" x="381.40" y="516.90" font-size="24.1" textLength="85.32" lengthAdjust="spacingAndGlyphs" fill="#1f3454" stroke="#fff" stroke-width="0.30">SERVER</text>
<text id="t_so" x="867.20" y="497.80" font-size="22.8" textLength="145.45" lengthAdjust="spacingAndGlyphs" fill="#1f3454" stroke="#fff" stroke-width="0.30">SWITCH ODER</text>
<text id="t_ro" x="897.40" y="529.00" font-size="22.8" textLength="85.87" lengthAdjust="spacingAndGlyphs" fill="#1f3454" stroke="#fff" stroke-width="0.30">ROUTER</text>
<text id="t_fc" x="1193.80" y="294.00" font-size="22.8" textLength="108.27" lengthAdjust="spacingAndGlyphs" fill="#14284b" stroke="#efefef" stroke-width="0.20">FIREWALL</text>
<text id="t_in" x="1384.30" y="502.50" font-size="22.8" textLength="106.58" lengthAdjust="spacingAndGlyphs" fill="#14284b" stroke="#efefef" stroke-width="0.20">INTERNET</text>
<text id="t_f3" x="1193.30" y="697.10" font-size="22.8" textLength="108.27" lengthAdjust="spacingAndGlyphs" fill="#14284b" stroke="#eeeeee" stroke-width="0.20">FIREWALL</text>
<text id="t_re" x="133.80" y="708.60" font-size="24.1" textLength="102.19" lengthAdjust="spacingAndGlyphs" fill="#1f3454" stroke="#fff" stroke-width="0.30">RECHNER</text>
<text id="t_f2" x="631.30" y="708.30" font-size="22.8" textLength="108.28" lengthAdjust="spacingAndGlyphs" fill="#14284b" stroke="#fff" stroke-width="0.20">FIREWALL</text>
</g>
</svg>
</body></html>
